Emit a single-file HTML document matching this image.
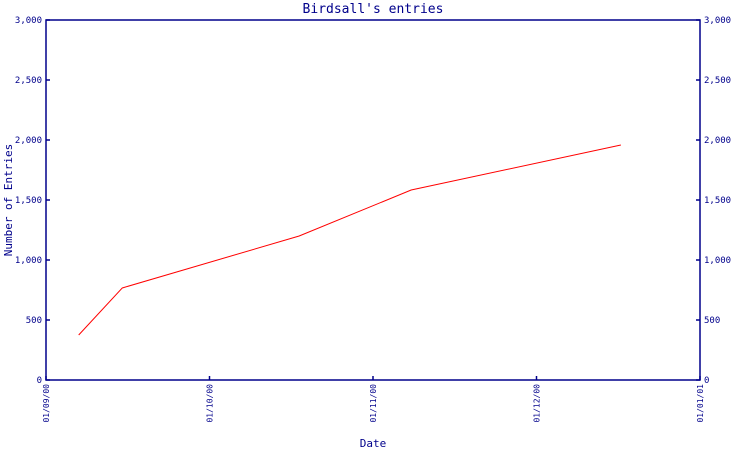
<!DOCTYPE html>
<html><head><meta charset="utf-8"><style>
body{margin:0;background:#fff;}
svg text{font-family:"DejaVu Sans Mono","Liberation Mono",monospace;fill:#00008b;}
</style></head><body>
<svg id="chart" width="750" height="450" viewBox="0 0 750 450" xmlns="http://www.w3.org/2000/svg">
<text x="373" y="13" text-anchor="middle" font-size="13">Birdsall's entries</text>
<text transform="translate(12,200) rotate(-90)" text-anchor="middle" font-size="11">Number of Entries</text>
<text x="373" y="447" text-anchor="middle" font-size="11">Date</text>
<g id="axes"></g>
<g id="marks"></g>
</svg>
<script>
const dates = ["2000-09-07","2000-09-15","2000-10-18","2000-11-08","2000-12-17"];
const entries = [375, 767, 1200, 1583, 1958];
const yTicks = [0,500,1000,1500,2000,2500,3000];
const yTickLabels = ["0","500","1,000","1,500","2,000","2,500","3,000"];
const xTickLabels = ["01/09/00","01/10/00","01/11/00","01/12/00","01/01/01"];

const L=46,R=700,T=20,B=380,NS="http://www.w3.org/2000/svg";
const yMax=3000;
function yScale(v){return B-(v/yMax)*(B-T);}
function monthIndex(s){const [y,m,d]=s.split("-").map(Number);const dim=new Date(y,m,0).getDate();return (y-2000)*12+(m-9)+(d-1)/dim;}
function xScale(mi){return L+mi/4*(R-L);}
function mk(tag,attrs,parent){const e=document.createElementNS(NS,tag);for(const k in attrs)e.setAttribute(k,attrs[k]);parent.appendChild(e);return e;}
const axes=document.getElementById("axes"),marks=document.getElementById("marks");
const frame=mk("rect",{x:L,y:T,width:R-L,height:B-T,fill:"none",stroke:"#00008b","stroke-width":1.5},axes);


yTicks.forEach((v,i)=>{
  const y=yScale(v);
  const t1=mk("line",{x1:L,x2:L+4,y1:y,y2:y,stroke:"#00008b","stroke-width":1.5},axes);
  
  
  const t2=mk("line",{x1:R-4,x2:R,y1:y,y2:y,stroke:"#00008b","stroke-width":1.5},axes);
  
  
  const a=mk("text",{x:L-4,y:y+3,"text-anchor":"end","font-size":"9"},axes);a.textContent=yTickLabels[i];
  
  
  const b=mk("text",{x:R+4,y:y+3,"text-anchor":"start","font-size":"9"},axes);b.textContent=yTickLabels[i];
  
  
});
xTickLabels.forEach((lab,i)=>{
  const x=xScale(i);
  const t=mk("line",{x1:x,x2:x,y1:B-4,y2:B,stroke:"#00008b","stroke-width":1.5},axes);
  
  
  const tx=mk("text",{transform:`translate(${x+3},${B+4}) rotate(-90)`,"text-anchor":"end","font-size":"8"},axes);tx.textContent=lab;
  
  
});
const pts=dates.map((d,i)=>xScale(monthIndex(d))+","+yScale(entries[i])).join(" ");
const line=mk("polyline",{points:pts,fill:"none",stroke:"#ff0000","stroke-width":1},marks);


</script>
</body></html>
